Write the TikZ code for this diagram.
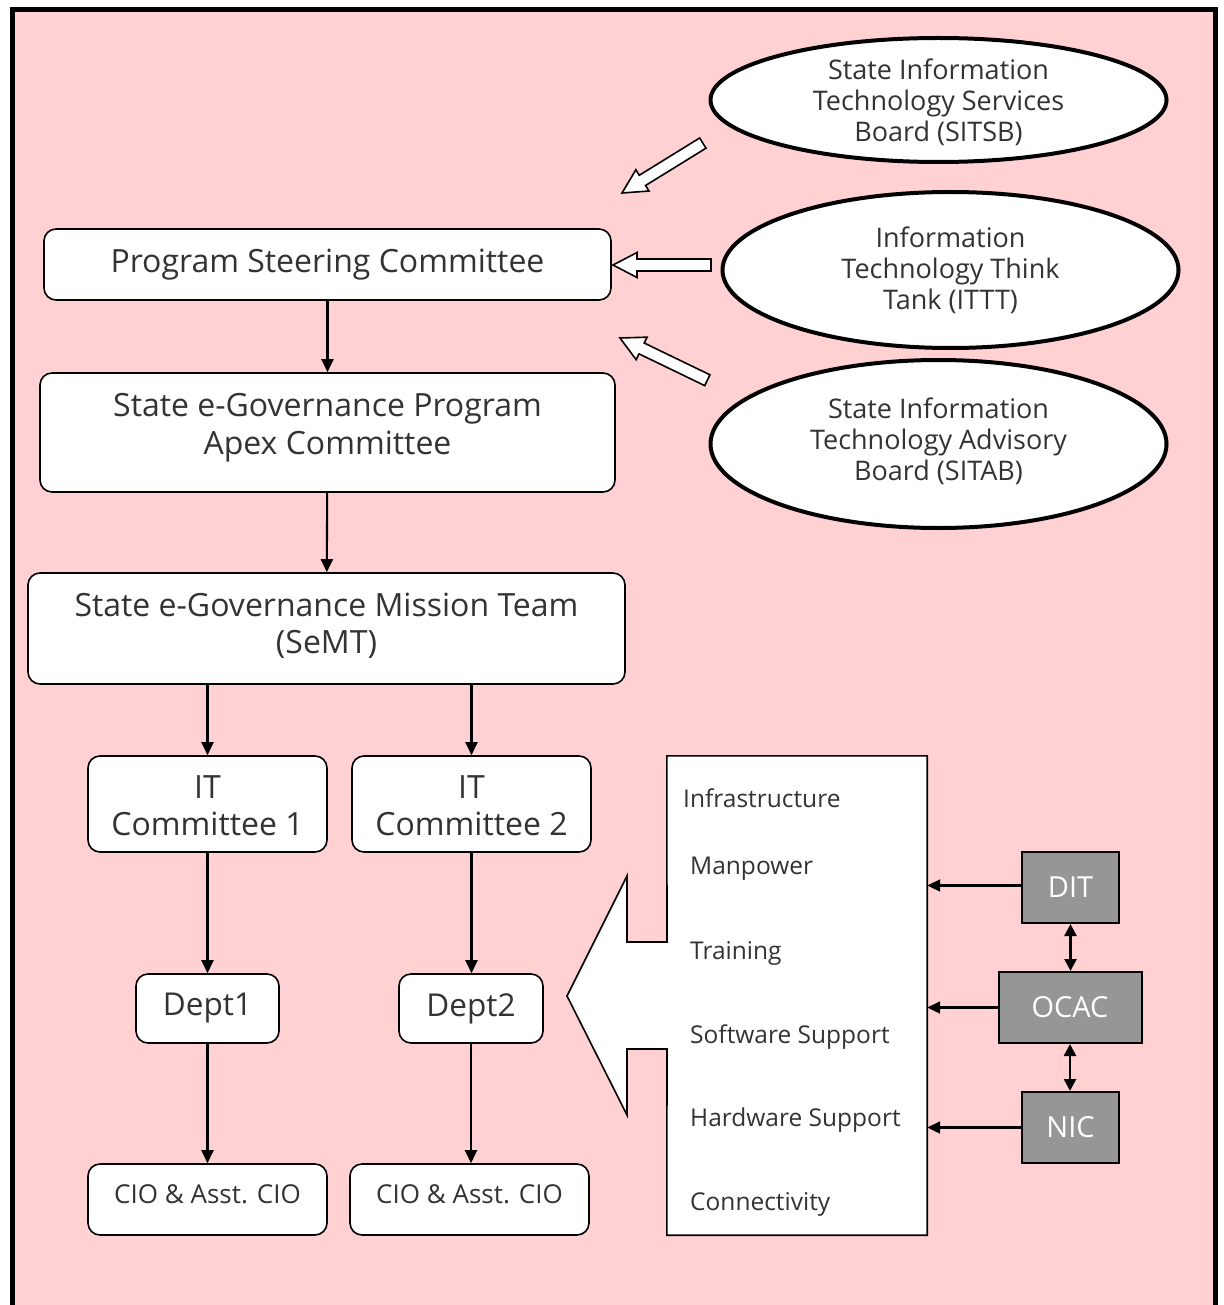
\documentclass[tikz,border=0pt]{standalone}
\usepackage{fontspec}
\setmainfont{Open Sans}
\usetikzlibrary{arrows.meta,calc,shapes.geometric}
\definecolor{bgpink}{HTML}{FFD1D3}
\definecolor{txtgrey}{HTML}{333333}
\definecolor{boxgrey}{HTML}{969696}
\newcommand{\fs}[2]{\fontsize{#1}{#2}\selectfont}
\tikzset{
  rbox/.style={draw=black, line width=1.6pt, fill=white, rounded corners=12pt, inner sep=0pt, text=txtgrey, align=center},
  oval/.style={draw=black, line width=4pt, fill=white, ellipse, inner sep=0pt},
  gbox/.style={draw=black, line width=2pt, fill=boxgrey, inner sep=0pt, text=white},
  txt/.style={text=txtgrey, inner sep=0pt, align=center},
  flow/.style={line width=2.1pt, -{Triangle[length=13pt,width=12pt]}},
  dflow/.style={line width=2.6pt, {Triangle[length=12pt,width=12pt]}-{Triangle[length=12pt,width=12pt]}},
  hollow/.style={draw=black, line width=1.6pt, fill=white, line join=miter},
}
\begin{document}
\begin{tikzpicture}[x=1pt,y=-1pt]
\useasboundingbox (0,0) rectangle (1223,1305);
\clip (0,0) rectangle (1223,1305);
\fill[white] (0,0) rectangle (1223,1305);
\draw[line width=5pt, fill=bgpink] (12.5,9.5) rectangle (1215.5,1340);

% ellipses
\node[oval, minimum width=456, minimum height=124] (sitsb) at (938.5,100) {};
\node[txt, font=\fs{27}{31}] (sitsbt) at (938.5,102) {State Information\\Technology Services\\Board (SITSB)};
\node[oval, minimum width=456, minimum height=156] (ittt) at (950.5,270) {};
\node[txt, font=\fs{27}{31}] (ittt t) at (950.5,270) {Information\\Technology Think\\Tank (ITTT)};
\node[oval, minimum width=456, minimum height=168] (sitab) at (938.5,444) {};
\node[txt, font=\fs{27}{31}] (sitabt) at (938.5,441) {State Information\\Technology Advisory\\Board (SITAB)};

% main boxes
\node[rbox, minimum width=567, minimum height=71, font=\fs{32}{38}] (psc) at (327.5,264.5) {Program Steering Committee};
\node[rbox, minimum width=575, minimum height=119] (apex) at (327.5,432.5) {};
\node[txt, font=\fs{32}{38}] (apext) at (327.5,428) {State e-Governance Program\\Apex Committee};
\node[rbox, minimum width=597, minimum height=111] (semt) at (326.5,628.5) {};
\node[txt, font=\fs{32}{37}] (semtt) at (326.5,625.5) {State e-Governance Mission Team\\(SeMT)};
\node[rbox, minimum width=239, minimum height=96] (it1) at (207.5,804) {};
\node[txt, font=\fs{32}{37}] (it1t) at (207.5,806) {IT\\Committee 1};
\node[rbox, minimum width=239, minimum height=96] (it2) at (471.5,804) {};
\node[txt, font=\fs{32}{37}] (it2t) at (471.5,806) {IT\\Committee 2};
\node[rbox, minimum width=143, minimum height=69, font=\fs{31.5}{37}] (d1) at (207.5,1008.5) {Dept1};
\node[rbox, minimum width=144, minimum height=69, font=\fs{31.5}{37}] (d2) at (471,1008.5) {Dept2};
\node[rbox, minimum width=239, minimum height=71] (c1) at (207.5,1199.5) {};
\node[txt, font=\fs{26}{30}] (c1t) at (207.5,1194) {CIO \& Asst. CIO};
\node[rbox, minimum width=239, minimum height=71] (c2) at (469.5,1199.5) {};
\node[txt, font=\fs{26}{30}] (c2t) at (469.5,1194) {CIO \& Asst. CIO};

% connectors
\draw[flow] (psc) -- (apex);
\draw[flow] (apex) -- (semt);
\draw[flow] (semt.south -| it1) -- (it1);
\draw[flow] (semt.south -| it2) -- (it2);
\draw[flow] (it1) -- (d1);
\draw[flow] (it2.south) -- (it2.south |- d2.north);
\draw[flow] (d1) -- (c1);
\draw[flow] (d2.south) -- (d2.south |- c2.north);

% hollow arrows
\begin{scope}[shift={(622,193)}, rotate=211.7]
  \draw[hollow] (0,0) -- (-24,12.5) -- (-24,6) -- (-95,6) -- (-95,-6) -- (-24,-6) -- (-24,-12.5) -- cycle;
\end{scope}
\begin{scope}[shift={(613,265)}, rotate=180]
  \draw[hollow] (0,0) -- (-24,12.5) -- (-24,6) -- (-98,6) -- (-98,-6) -- (-24,-6) -- (-24,-12.5) -- cycle;
\end{scope}
\begin{scope}[shift={(620,338)}, rotate=154.2]
  \draw[hollow] (0,0) -- (-24,12.5) -- (-24,6) -- (-97,6) -- (-97,-6) -- (-24,-6) -- (-24,-12.5) -- cycle;
\end{scope}

% services box with big arrow
\node[minimum width=260, minimum height=479, inner sep=0pt] (serv) at (797,995.5) {};
\draw[line width=1.6pt, fill=white, line join=miter]
  (serv.north west) -- (serv.north east) -- (serv.south east) -- (serv.south west)
  -- (667,1049) -- (627,1049) -- (627,1115) -- (567,996) -- (627,876) -- (627,942) -- (667,942) -- cycle;
\begin{scope}[every node/.style={txt, font=\fs{24.5}{28}, anchor=west}]
\node (s1) at (683,798) {Infrastructure};
\node (s2) at (690,869) {Manpower};
\node (s3) at (690,953) {Training};
\node (s4) at (690,1037) {Software Support};
\node (s5) at (690,1120) {Hardware Support};
\node (s6) at (690,1204) {Connectivity};
\end{scope}

% grey boxes
\node[gbox, minimum width=97, minimum height=71, font=\fs{29}{34}] (dit) at (1070.5,887.5) {DIT};
\node[gbox, minimum width=143, minimum height=71, font=\fs{29}{34}] (ocac) at (1070,1007.5) {OCAC};
\node[gbox, minimum width=97, minimum height=71, font=\fs{29}{34}] (nic) at (1070.5,1127.5) {NIC};
\draw[flow] (dit.west) ++(0,-2) -- ($(serv.east |- dit.west)+(0,-2)$);
\draw[flow] (ocac.west) -- (serv.east |- ocac.west);
\draw[flow] (nic.west) -- (serv.east |- nic.west);
\draw[dflow] (dit.south) -- (dit.south |- ocac.north);
\draw[dflow] (ocac.south) -- (ocac.south |- nic.north);
\end{tikzpicture}
\end{document}
